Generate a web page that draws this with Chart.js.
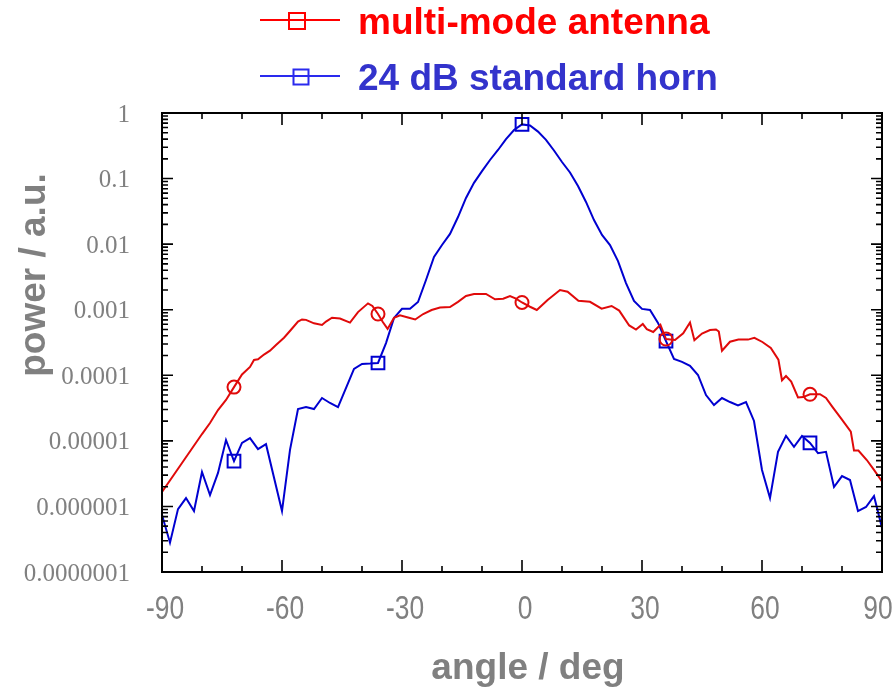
<!DOCTYPE html>
<html>
<head>
<meta charset="utf-8">
<script src="https://cdn.jsdelivr.net/npm/chart.js@4.4.1/dist/chart.umd.min.js"></script>
<style>
  html, body { margin: 0; padding: 0; background: #ffffff; }
  #wrap { width: 896px; height: 689px; position: relative; }
</style>
</head>
<body>
<div id="wrap"><canvas id="c" width="896" height="689"></canvas></div>
<script>
// ---------- data ----------
const seriesNames = ['multi-mode antenna', '24 dB standard horn'];

const redAngles = [-90,-85,-80,-78,-76,-74,-72,-70,-68,-67,-66,-64.5,-63,-61.5,-59.5,-57.8,-56,-55,-54,-52,-50,-49,-47.5,-45.5,-43,-41,-38.5,-37.4,-36,-34.8,-33.6,-32,-30.5,-28.5,-26.7,-24.7,-22.6,-20.5,-18,-16,-14,-12,-9,-6.75,-4.7,-3,-1.5,0,2,3.7,6.4,9.5,11.4,14.1,17,19.9,22.4,24.3,26.8,28.5,30.2,31.2,32.8,34.6,36,38.25,40.3,42,43.1,45,47,48.5,49.2,50,52,54.1,56.5,58.1,60.1,62.2,64.1,65,66,67.3,69,70.3,72,74.5,76,77.6,79.9,82.2,83,84.1,86.2,88,90];
const redPower = [1.66e-6,4.6e-6,1.27e-5,1.87e-5,2.95e-5,4.2e-5,6.6e-5,1.03e-4,1.34e-4,1.71e-4,1.75e-4,2.07e-4,2.37e-4,2.9e-4,3.74e-4,4.9e-4,6.6e-4,7.1e-4,7.0e-4,6.2e-4,5.85e-4,6.6e-4,7.55e-4,7.35e-4,6.35e-4,9.2e-4,1.25e-3,1.14e-3,8.6e-4,6.5e-4,5.1e-4,7.5e-4,8.2e-4,7.6e-4,7.1e-4,8.6e-4,9.9e-4,1.08e-3,1.1e-3,1.32e-3,1.62e-3,1.74e-3,1.74e-3,1.44e-3,1.47e-3,1.62e-3,1.48e-3,1.29e-3,1.11e-3,9.9e-4,1.41e-3,2.0e-3,1.88e-3,1.37e-3,1.32e-3,1.04e-3,1.14e-3,9.7e-4,5.75e-4,4.97e-4,6.05e-4,5.05e-4,4.57e-4,5.9e-4,3.57e-4,3.45e-4,4.37e-4,6.4e-4,3.42e-4,4.34e-4,4.9e-4,5.0e-4,4.65e-4,2.37e-4,3.25e-4,3.5e-4,3.5e-4,3.73e-4,3.22e-4,2.62e-4,1.73e-4,8.4e-5,9.75e-5,8.0e-5,4.6e-5,4.65e-5,5.13e-5,5.14e-5,4.5e-5,3.3e-5,2.15e-5,1.38e-5,7.1e-6,7.1e-6,5.1e-6,3.6e-6,2.4e-6];

const blueAngles = [-90,-88,-86,-84,-82,-80,-78,-76,-74,-72,-70,-68,-66,-64,-60,-58,-56,-54,-52,-50,-48,-46,-42,-40,-38,-36,-34,-32,-30,-28,-26,-24,-22,-20,-18,-16,-14,-12,-10,-8,-6,-4,-2,0,2,4,6,8,10,12,14,16,18,20,22,24,26,28,30,32,34,36,38,40,42,44,46,48,50,52,54,56,58,60,62,64,66,68,70,72,74,76,78,80,82,84,86,88,90];
const bluePower = [7.4e-7,2.8e-7,9.1e-7,1.34e-6,8.5e-7,3.35e-6,1.49e-6,3.24e-6,1.03e-5,4.9e-6,9.3e-6,1.1e-5,7.5e-6,8.9e-6,8.5e-7,7.3e-6,3.06e-5,3.28e-5,3.06e-5,4.5e-5,3.78e-5,3.28e-5,1.25e-4,1.49e-4,1.51e-4,1.54e-4,3.1e-4,7.5e-4,1.03e-3,1.03e-3,1.31e-3,2.84e-3,6.4e-3,9.7e-3,1.43e-2,2.59e-2,5.06e-2,8.6e-2,0.13,0.192,0.273,0.40,0.55,0.67,0.645,0.52,0.39,0.268,0.179,0.124,0.077,0.044,0.0233,0.0138,9.7e-3,5.5e-3,2.55e-3,1.36e-3,1.03e-3,9.9e-4,6.3e-4,3.33e-4,1.77e-4,1.6e-4,1.39e-4,1.01e-4,5.0e-5,3.52e-5,4.5e-5,3.91e-5,3.46e-5,3.91e-5,2.01e-5,3.6e-6,1.34e-6,6.8e-6,1.19e-5,8.1e-6,1.19e-5,9.3e-6,6.5e-6,6.8e-6,1.98e-6,2.9e-6,2.53e-6,8.5e-7,9.8e-7,1.44e-6,4.7e-7];

const markerAngles = [-72, -36, 0, 36, 72];

const xTickValues = [-90, -60, -30, 0, 30, 60, 90];
const xTickLabels = ['-90', '-60', '-30', '0', '30', '60', '90'];
const xMinorValues = [-80, -70, -50, -40, -20, -10, 10, 20, 40, 50, 70, 80];
const yTickValues = [1, 0.1, 0.01, 0.001, 0.0001, 0.00001, 0.000001, 0.0000001];
const yTickLabels = ['1', '0.1', '0.01', '0.001', '0.0001', '0.00001', '0.000001', '0.0000001'];

const xTitle = 'angle / deg';
const yTitle = 'power / a.u.';

// ---------- styles ----------
const RED = '#e00a0a';
const BLUE = '#0000d0';
const GRAY = '#808080';
const SANS = '"Liberation Sans", Arial, Helvetica, sans-serif';
const SERIF = '"Liberation Serif", "Times New Roman", serif';

function pts(xs, ys) { return xs.map((v, i) => ({ x: v, y: ys[i] })); }

const decorPlugin = {
  id: 'decor',
  afterDraw(chart) {
    const { ctx, chartArea: a, scales } = chart;
    const xs = scales.x, ys = scales.y;
    ctx.save();
    // frame
    ctx.strokeStyle = '#000';
    ctx.lineWidth = 2;
    ctx.strokeRect(a.left, a.top, a.right - a.left, a.bottom - a.top);
    ctx.lineWidth = 1.6;
    const hTick = (py, len) => {
      ctx.beginPath();
      ctx.moveTo(a.left, py); ctx.lineTo(a.left + len, py);
      ctx.moveTo(a.right, py); ctx.lineTo(a.right - len, py);
      ctx.stroke();
    };
    const vTick = (px, len) => {
      ctx.beginPath();
      ctx.moveTo(px, a.top); ctx.lineTo(px, a.top + len);
      ctx.moveTo(px, a.bottom); ctx.lineTo(px, a.bottom - len);
      ctx.stroke();
    };
    yTickValues.forEach(v => {
      hTick(ys.getPixelForValue(v), 11);
      if (v < 1) {
        for (let m = 2; m <= 9; m++) hTick(ys.getPixelForValue(v * m), 6);
      }
    });
    xTickValues.forEach(v => vTick(xs.getPixelForValue(v), 12));
    xMinorValues.forEach(v => vTick(xs.getPixelForValue(v), 6));

    // x tick labels (narrow sans)
    ctx.fillStyle = GRAY;
    ctx.font = '33px ' + SANS;
    ctx.textAlign = 'center';
    ctx.textBaseline = 'alphabetic';
    const sx = 0.8;
    xTickValues.forEach((v, i) => {
      let px = xs.getPixelForValue(v) + 3;
      if (i === xTickValues.length - 1) px = Math.min(px, 878);
      ctx.save();
      ctx.translate(px, 619);
      ctx.scale(sx, 1);
      ctx.fillText(xTickLabels[i], 0, 0);
      ctx.restore();
    });

    // axis titles
    ctx.font = 'bold 37px ' + SANS;
    ctx.fillText(xTitle, 528, 679);
    ctx.save();
    ctx.translate(45, 275);
    ctx.rotate(-Math.PI / 2);
    ctx.textAlign = 'center';
    ctx.fillText(yTitle, 0, 0);
    ctx.restore();

    // legend
    const rows = [
      { y: 20, color: '#ff0000', text: '#ff0000', label: seriesNames[0], mx: 297, ms: 16 },
      { y: 76, color: '#2a2aee', text: '#3333cc', label: seriesNames[1], mx: 301, ms: 15 }
    ];
    rows.forEach(r => {
      ctx.strokeStyle = r.color;
      ctx.lineWidth = 2;
      ctx.beginPath();
      ctx.moveTo(260, r.y); ctx.lineTo(340, r.y);
      ctx.stroke();
      ctx.strokeRect(r.mx - r.ms / 2, r.y - r.ms / 2 + 1, r.ms, r.ms);
      ctx.fillStyle = r.text;
      ctx.font = 'bold 37px ' + SANS;
      ctx.textAlign = 'left';
      ctx.textBaseline = 'middle';
      ctx.fillText(r.label, 358, r.y + 4);
    });
    ctx.restore();
  }
};

new Chart(document.getElementById('c'), {
  type: 'line',
  data: {
    datasets: [
      {
        label: seriesNames[0],
        data: pts(redAngles, redPower),
        borderColor: RED,
        borderWidth: 2,
        tension: 0,
        pointStyle: 'circle',
        pointRadius: c => markerAngles.includes(c.raw && c.raw.x) ? 6.5 : 0,
        pointBorderColor: RED,
        pointBackgroundColor: 'rgba(0,0,0,0)',
        pointBorderWidth: 2,
        pointHoverRadius: 0
      },
      {
        label: seriesNames[1],
        data: pts(blueAngles, bluePower),
        borderColor: BLUE,
        borderWidth: 2,
        tension: 0,
        pointStyle: 'rect',
        pointRadius: c => markerAngles.includes(c.raw && c.raw.x) ? 9 : 0,
        pointBorderColor: BLUE,
        pointBackgroundColor: 'rgba(0,0,0,0)',
        pointBorderWidth: 2,
        pointHoverRadius: 0
      }
    ]
  },
  options: {
    responsive: false,
    animation: false,
    devicePixelRatio: 1,
    events: [],
    layout: { padding: { top: 113, right: 14, bottom: 0, left: 0 } },
    plugins: { legend: { display: false }, tooltip: { enabled: false }, title: { display: false } },
    scales: {
      x: {
        type: 'linear',
        min: -90, max: 90,
        grid: { display: false },
        border: { display: false },
        ticks: { display: false },
        afterFit: s => { s.height = 117; }
      },
      y: {
        type: 'logarithmic',
        min: 0.0000001, max: 1,
        grid: { display: false, drawTicks: false },
        border: { display: false },
        afterBuildTicks: s => { s.ticks = yTickValues.map(v => ({ value: v })); },
        ticks: {
          color: GRAY,
          font: { family: SERIF, size: 25 },
          padding: 32,
          labelOffset: 2,
          autoSkip: false,
          callback: (v, i) => yTickLabels[i]
        },
        afterFit: s => { s.width = 162; }
      }
    }
  },
  plugins: [decorPlugin]
});
</script>
</body>
</html>
